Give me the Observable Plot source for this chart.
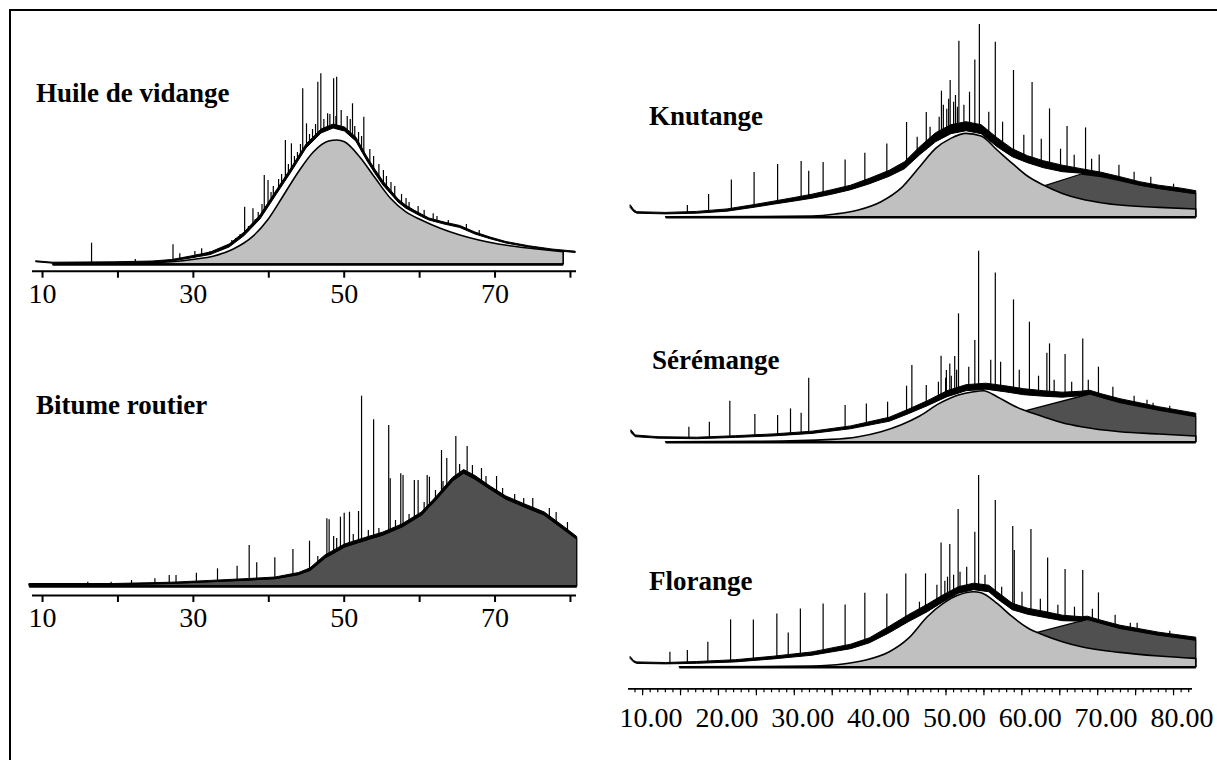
<!DOCTYPE html>
<html><head><meta charset="utf-8">
<script src="https://cdn.jsdelivr.net/npm/d3@7"></script>
<script src="https://cdn.jsdelivr.net/npm/@observablehq/plot@0.6"></script>
<style>
html,body{margin:0;padding:0;background:#fff;}
#root{position:relative;width:1217px;height:760px;overflow:hidden;background:#fff;font-family:"Liberation Serif","Times New Roman",serif;}
.frame{position:absolute;left:9px;top:8.5px;width:1300px;height:900px;border-top:2.5px solid #000;border-left:2.5px solid #000;}
.panel{position:absolute;}
.panel svg text{font-size:28px !important;font-family:"Liberation Serif","Times New Roman",serif !important;fill:#000;}
.title{position:absolute;font-weight:bold;font-size:27px;line-height:1;white-space:nowrap;color:#000;font-family:"Liberation Serif","Times New Roman",serif;}
</style></head><body><div id="root"><div class="frame"></div></div>
<script>
// ---------- tick labels ----------
const leftTicks = [10, 20, 30, 40, 50, 60, 70, 80];
const leftLabels = [10, 30, 50, 70];
const rightLabelTicks = [10, 20, 30, 40, 50, 60, 70, 80];
const rightMajorTicks = [5, 10, 15, 20, 25, 30, 35, 40, 45, 50, 55, 60, 65, 70, 75];
const rightMinorTicks = d3.range(4, 78);
const titles = ["Huile de vidange", "Bitume routier", "Knutange", "Sérémange", "Florange"];

// ---------- Huile de vidange : [time, low, high] trace, [time, level] hump, [time, top] peaks ----------
const huileTrace = [[9.2,2.2,3.2],[11.4,0.8,1.8],[19.5,1.0,2.2],[24.6,1.5,3],[27.2,3,4.5],[29.7,6,8],[32.3,9.5,12],[34.8,17,20],[36.8,28.5,32],[38.9,45,49],[40.9,68,72],[43,92,96],[45,116,120],[47,131,135],[48.6,136,140],[50.1,133,137],[51.6,123,127],[53.1,103,107],[54.2,90,94],[55.2,79,83],[56.2,70.5,74],[57.2,62,65],[58.2,56,59],[59.3,51.5,54],[60.3,47.5,50],[61.3,44,46],[63.3,40,42],[65.4,36.5,38.5],[67.4,30,32],[69.4,25.3,27],[71.5,21,22.5],[74.5,17,18.3],[77.6,13.7,15],[80.7,11.5,12.8]];
const huileGray = [[11.4,0],[19.5,0.3],[27.2,2.3],[30.2,4.7],[32.8,8],[35.3,14.7],[37.9,27.3],[39.9,44],[41.9,67.3],[44,92.3],[46,112.3],[48,123],[49.1,124],[50.1,122.3],[52.1,107.3],[54.2,85.7],[56.2,65.7],[58.2,52.3],[60.3,44],[62.8,35.7],[65.4,29],[67.9,24],[70.5,20],[73,17.3],[75.6,15],[79.1,12.3]];
const huileSpikes = [[16.5,21.3],[22.3,5],[27.3,19.7],[28.2,10.7],[30.2,13],[31.1,15.7],[32.2,13],[35.1,24],[36.8,57.3],[37.9,55.7],[39.4,89],[39.9,84],[42.2,124],[43,120.7],[44.5,175.7],[45,140.7],[46.5,182.3],[46.9,190.7],[47.8,150.7],[48.6,185.7],[49,187.3],[49.6,154],[51.1,160.7],[52.6,147.3],[53.9,108],[55.2,94],[56.7,78],[58.2,66],[59.8,58],[61.8,50.7],
  [33.5,16],[34.2,18],[35.6,26],[36.2,30],[37.3,38],[38.2,45],[38.6,52],[39.1,60],[40.3,72],[40.6,78],[41.3,85],[41.7,90],[42.6,100],[43.4,108],[43.8,112],[44.2,120],[45.4,130],[45.8,135],[46.2,140],[47.3,145],[48.1,150],[48.9,148],[50.4,148],[50.8,145],[51.4,138],[51.9,132],[52.3,128],[53.4,115],[54.6,100],[55.6,88],[56.2,82],[57.6,70],[58.6,62],[60.6,54],[62.3,48],[63.8,44],[66.2,40],[67.9,34]];

// ---------- Bitume routier ----------
const bitumeTrace = [[8.3,1.3,2.5],[19.5,1.3,2.5],[27.2,2.7,3.8],[32.3,4.3,5.6],[37.4,6,7.5],[40.9,7.5,9],[44,11.5,13.5],[45.5,15.5,18],[47.5,28,31],[50.1,39,42],[52.6,45,48],[55.2,51,54],[57.7,59,62],[60.3,71,74],[62.3,87,90],[64.4,105,108.5],[65.9,113,116.5],[67.4,107,110.5],[69.4,97,100],[71.5,87,90],[74,79,82],[76.6,71,74],[79.1,57,60],[80.9,47,49.5]];
const bitumeDark = [[8.3,1.3],[19.5,1.3],[27.2,2.7],[32.3,4.3],[37.4,6],[40.9,7.5],[44,11.5],[45.5,15.5],[47.5,28],[50.1,39],[52.6,45],[55.2,51],[57.7,59],[60.3,71],[62.3,87],[64.4,105],[65.9,113],[67.4,107],[69.4,97],[71.5,87],[74,79],[76.6,71],[79.1,57],[80.9,47]];
const bitumeSpikes = [[16,4.3],[19.1,4.3],[21.8,6],[24.9,7.7],[26.8,11],[27.7,11],[30.4,13.3],[33.2,17.7],[35.8,20.3],[37.4,41],[38.4,23.7],[40.8,28.7],[43.2,37],[45.4,45.3],[47.7,67.7],[48,66.7],[48.6,50],[49.5,69.3],[50,73.3],[50.7,74.3],[51.9,75],[52.3,190.3],[53.9,166.7],[55.9,161],[56.1,107.7],[57.5,112.7],[57.8,111],[59.3,106],[59.8,106],[61,111],[61.3,109.3],[62.9,136],[63.6,128],[64.8,150],[66.3,140],[68.2,118],[70.2,110],[75,88],[78.1,74],
  [46.5,30],[49,48],[51.2,52],[53.2,56],[54.6,58],[56.8,66],[58.6,72],[60.6,84],[62.1,96],[63.1,105],[65.3,122],[67,121],[68.8,110],[71,98],[72.6,92],[73.8,88],[77.2,78],[79.6,64]];

// ---------- Knutange ----------
const knutTrace = [[3.45,9,11.7],[3.9,5,7],[4.3,3.5,5],[8.1,2.8,4.3],[12.2,3.5,5.3],[16.2,5.5,7.8],[19.8,9.5,12.2],[22.3,12.5,15.5],[24.9,15.5,19],[27.4,18.5,22.5],[30,22.5,27],[32.5,27,31.5],[35,33,38.5],[37.6,40.5,46.5],[39.6,48,55],[41.6,62,70],[43.7,75,84],[45.7,83,92],[47.7,86,95],[49.7,83,92],[51.8,70,79],[53.8,60,68],[55.8,54,61],[57.9,49,56],[60.4,45,51.5],[62.9,43.5,48],[65.5,40.5,44.5],[68,36.5,40],[70.6,31.7,35],[73.1,28.3,31.5],[76.1,25,28.5],[78,23,26]];
const knutGray = [[8.1,0],[20,0.2],[27.4,0.7],[30.5,2.7],[33.5,6.7],[36.5,15],[39.1,28.3],[41.6,50],[43.7,68.3],[45.7,78.3],[47.7,83.3],[49.7,80.7],[51.8,66.7],[53.8,53.3],[55.8,40.7],[57.9,31.7],[60.4,23.3],[62.9,17.7],[65.5,14],[68,11.7],[73.1,9.3],[78,7.7]];
const knutDark = [[58.1,31],[62.9,42.7],[65.5,40],[68,36],[70.6,31.7],[73.1,28.3],[76.1,25],[78,23]];
const knutSpikes = [[10.9,11.7],[13.7,22.7],[16.7,37.3],[19.7,44.7],[22.8,52.7],[25.9,55.7],[26.9,46],[28.8,54.7],[31.7,57.3],[34.3,64],[37.2,73.3],[39.8,94.7],[42.4,104.7],[44.4,126],[45.55,136.7],[46.25,121.7],[46.7,176],[48.8,157.3],[49.4,192.7],[51.5,175],[53.9,146.7],[56.35,134.7],[58.65,108.3],[60.96,90.7],[63.4,89.3],[65.2,62.3],
  [41.2,80],[42.9,90],[44.1,100],[44.65,112],[45.1,108],[45.35,118],[46,115],[46.5,110],[47.36,112],[48.1,125],[50.64,105],[52.46,95],[55.26,82],[57.56,78],[60.1,68],[61.9,62],[64.2,58],[67.8,52],[69.8,45],[72,40],[75,33]];

// ---------- Sérémange ----------
const seremTrace = [[3.55,9,11.7],[4.1,5,6.7],[7.1,3.5,5],[12.2,3,4.5],[17.3,4.3,6],[22.3,5.8,7.8],[27.4,8.3,10.5],[32.5,13,15.8],[37.6,20.5,24.5],[40.1,28,32.5],[42.6,36,41],[45.2,45,51],[47.7,51,57],[50.3,52.5,58.5],[52.8,50,56],[55.3,47,53],[57.9,45.5,51],[60.4,44.5,49.5],[62.9,46,50.5],[64,47.9,51.5],[65.5,44.5,48],[68,39.5,43],[73.1,31.9,35],[78,25.5,28.5]];
const seremGray = [[8.1,0],[20,0.3],[30,2.3],[33.5,5],[36.5,10],[39.1,16.7],[41.6,25.7],[44.2,38.3],[46.7,46.7],[48.7,50],[50,51],[51.8,45],[53.8,36.7],[55.3,31.7],[57.9,25],[60.4,19],[62.9,15],[68,10],[73.1,7.7],[78,5.7]];
const seremDark = [[55.6,31],[64,47.7],[68,39],[73.1,31.7],[78,25]];
const seremSpikes = [[11.1,15],[13.8,20],[16.5,41],[19.8,27.7],[22.8,26.7],[24.5,33.3],[25.9,29],[26.9,64],[31.7,36.7],[34.5,38.3],[37.3,40],[39.8,56],[40.5,76.7],[42.4,56.7],[44.35,86],[45.05,71.7],[45.5,78.3],[46.15,85.7],[46.65,128.3],[48.8,101.7],[49.3,191],[51.5,169.3],[53.9,142.3],[56,120],[58.3,89],[58.65,98.3],[60.7,87.7],[63.03,103.3],[65.1,75],[72.3,39],
  [44,60],[44.95,64],[45.7,66],[46.4,72],[48,75],[50.9,82],[52.2,80],[54.66,72],[57.2,66],[59.26,62],[61.57,60],[63.76,62],[67,55],[69.8,46],[71.5,42],[74.5,36]];

// ---------- Florange ----------
const florTrace = [[3.45,8,10],[3.9,4.5,6],[4.3,3.3,4.8],[8.1,2.8,4.2],[12.2,3.4,5.2],[17.3,4.8,7],[22.3,7.8,10.5],[27.4,11.5,14.8],[32.5,18,22.5],[35,24,29],[37.6,34,40.5],[40.1,45,52],[42.6,55,62.5],[44.7,65,72],[46.7,73.5,80],[48.7,77,83.5],[50.7,75,81.5],[51.8,68,75],[53.8,57,63.5],[55.8,52.5,58.5],[57.9,49.5,55.5],[60.4,46,51.5],[62.9,45.5,50],[63.7,47.5,50.5],[65.5,43.5,46.5],[68,38.5,41.5],[73.1,31.9,34.5],[78,26.7,29.5]];
const florGray = [[9.9,0],[20,0.2],[27.4,0.7],[31.5,2.7],[34.5,6.7],[37.6,15],[40.1,28.3],[42.6,50],[44.7,63.3],[46.7,71.7],[48.7,75],[49.7,74],[51.8,63.3],[53.8,50],[55.8,39],[57.9,31.7],[60.4,25],[62.9,20],[68,14.3],[73.1,10.7],[78,8.3]];
const florDark = [[57.1,34.3],[63.7,47.3],[68,38.3],[73.1,31.7],[78,26.5]];
const florSpikes = [[8.6,15],[10.9,16.7],[13.6,25],[16.6,47.3],[19.6,47.3],[22.7,53.3],[24.2,34.3],[25.8,58.3],[28.8,63.3],[31.7,62.3],[34.3,74],[37.2,73.3],[39.7,93.3],[42.3,93.3],[44.35,124.3],[45.5,122.7],[46.6,157.7],[48.8,135],[49.3,191.7],[51.5,166.7],[53.8,140.7],[54,116.7],[56.2,137.7],[58.4,109.3],[60.7,97.7],[63.03,96.7],[65.1,74.3],[69.3,44],[72.1,35],
  [41.5,65],[43.8,82],[44.85,86],[45.2,90],[46,92],[46.85,95],[47.73,100],[50.14,92],[52.34,80],[55.02,75],[57.44,68],[59.75,62],[61.94,60],[64.3,58],[67.3,52],[70.2,44],[74.5,36]];

// ---------- drawing ----------
const FONT = "'Liberation Serif','Times New Roman',serif";
const X = p => p[0];

function chrom(d) {
  const m = [];
  m.push(Plot.ruleX(d.spikes, {x: X, y1: () => 0, y2: p => p[1], stroke: "#000", strokeWidth: 1.2}));
  m.push(Plot.areaY(d.trace, {x: X, y1: () => 0, y2: p => p[1], fill: "#fff"}));
  if (d.dark) m.push(Plot.areaY(d.dark, {x: X, y1: () => 0, y2: p => p[1], fill: "#505050", stroke: "#000", strokeWidth: 1.3}));
  if (d.gray) m.push(Plot.areaY(d.gray, {x: X, y1: () => 0, y2: p => p[1], fill: "#c0c0c0", stroke: "#000", strokeWidth: 1.6, curve: "monotone-x"}));
  m.push(Plot.areaY(d.trace, {x: X, y1: p => p[1], y2: p => p[2], fill: "#000", stroke: "#000", strokeWidth: 1}));
  const base = d.gray || d.dark;
  m.push(Plot.ruleY([0], {x1: () => base[0][0], x2: () => base[base.length - 1][0], stroke: "#000", strokeWidth: 2.4}));
  return m;
}

const root = document.getElementById("root");
function place(svg, left, top) {
  const div = document.createElement("div");
  div.className = "panel";
  div.style.left = left + "px";
  div.style.top = top + "px";
  div.appendChild(svg);
  root.appendChild(div);
}
function title(text, left, baseline) {
  const div = document.createElement("div");
  div.className = "title";
  div.textContent = text;
  div.style.left = left + "px";
  div.style.top = (baseline - 0.8375 * 27) + "px";
  root.appendChild(div);
}

// layout constants (pixels)
const L = {W: 610, mL: 32, mR: 34, xd: [8.67, 80.8]};
const R = {W: 617, mL: 28, mR: 25, xd: [3.14, 77.5]};
const style = {background: "none", overflow: "visible", fontFamily: FONT, fontSize: "28px", color: "#000"};

function leftPanel(data, H, axisSvgY, gap) {
  return Plot.plot({
    width: L.W, height: H, marginLeft: L.mL, marginRight: L.mR, marginTop: 0, marginBottom: H - axisSvgY,
    x: {domain: L.xd},
    y: {domain: [-gap, 230], range: [axisSvgY, axisSvgY - 230 - gap], axis: null},
    style,
    marks: [
      ...chrom(data),
      Plot.ruleY([-gap], {stroke: "#000", strokeWidth: 2}),
      Plot.axisX({ticks: leftTicks, tickSize: 7, tickPadding: 5, strokeWidth: 2, fontSize: 28, label: null,
        tickFormat: v => leftLabels.includes(v) ? String(v) : ""})
    ]
  });
}
place(leftPanel({trace: huileTrace, gray: huileGray, spikes: huileSpikes}, 290, 230.7, 6.7), 0, 40);
place(leftPanel({trace: bitumeTrace, dark: bitumeDark, spikes: bitumeSpikes}, 300, 235, 9), 0, 360);

function rightPanel(data, H, baseSvgY) {
  return Plot.plot({
    width: R.W, height: H, marginLeft: R.mL, marginRight: R.mR, marginTop: 0, marginBottom: H - baseSvgY,
    x: {domain: R.xd, axis: null},
    y: {domain: [0, 210], range: [baseSvgY, baseSvgY - 210], axis: null},
    style,
    marks: chrom(data)
  });
}
place(rightPanel({trace: knutTrace, gray: knutGray, dark: knutDark, spikes: knutSpikes}, 215, 206.7), 600, 10);
place(rightPanel({trace: seremTrace, gray: seremGray, dark: seremDark, spikes: seremSpikes}, 215, 206.7), 600, 235);

// Florange with the shared time axis
(function () {
  const H = 300, axisSvgY = 233.3, gap = 21.6;
  const svg = Plot.plot({
    width: R.W, height: H, marginLeft: R.mL, marginRight: R.mR, marginTop: 0, marginBottom: H - axisSvgY,
    x: {domain: R.xd},
    y: {domain: [-gap, 210], range: [axisSvgY, axisSvgY - 210 - gap], axis: null},
    style,
    marks: [
      ...chrom({trace: florTrace, gray: florGray, dark: florDark, spikes: florSpikes}),
      Plot.ruleY([-gap], {stroke: "#000", strokeWidth: 1.8}),
      Plot.axisX({ticks: rightMinorTicks, tickSize: 4, strokeWidth: 1.2, tickFormat: () => "", label: null}),
      Plot.axisX({ticks: rightMajorTicks, tickSize: 7, strokeWidth: 1.2, tickFormat: () => "", label: null}),
      Plot.axisX({ticks: rightLabelTicks, tickSize: 0, tickPadding: 18, textAnchor: "end", dx: 2, fontSize: 28, label: null,
        tickFormat: v => v.toFixed(2)})
    ]
  });
  place(svg, 600, 455);
})();

title(titles[0], 36, 103);
title(titles[1], 36, 415);
title(titles[2], 649, 126);
title(titles[3], 652, 370);
title(titles[4], 649, 591);
</script></body></html>
